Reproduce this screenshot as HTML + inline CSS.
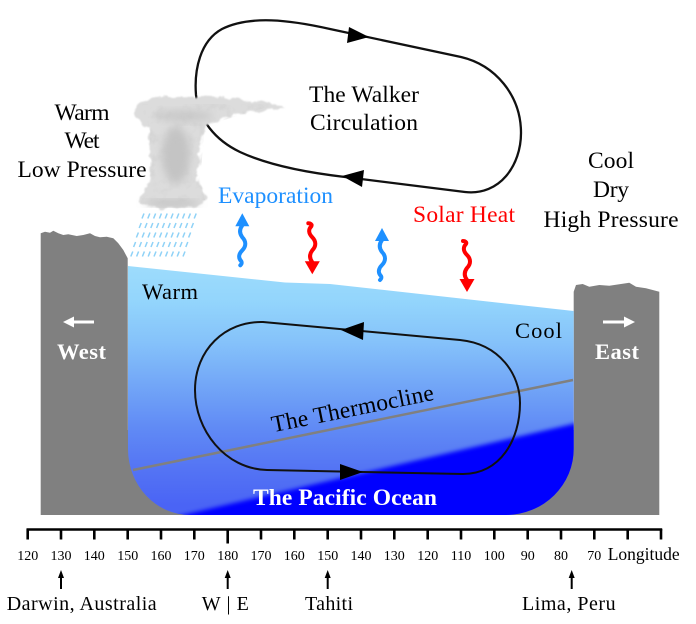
<!DOCTYPE html>
<html><head><meta charset="utf-8"><style>
html,body{margin:0;padding:0;background:#fff;}
svg{display:block;}
text{font-family:"Liberation Serif","Times New Roman","DejaVu Serif",serif;}
</style></head><body>
<svg width="696" height="624" viewBox="0 0 696 624" font-family="Liberation Serif, serif">
<defs>
  <linearGradient id="sea" gradientUnits="userSpaceOnUse" x1="0" y1="266" x2="0" y2="505">
    <stop offset="0" stop-color="#9ddcfc"/>
    <stop offset="0.15" stop-color="#93d5fc"/>
    <stop offset="0.32" stop-color="#85c2fa"/>
    <stop offset="0.5" stop-color="#72a6f7"/>
    <stop offset="0.68" stop-color="#608af5"/>
    <stop offset="0.85" stop-color="#5474f4"/>
    <stop offset="1" stop-color="#4a64f5"/>
  </linearGradient>
  <clipPath id="oc">
    <path d="M128,266 L285,282.5 L330,284 L573.7,311 L573.7,448 A68,66 0 0 1 506,515 L190,515 A62,66 0 0 1 128,449 Z"/>
  </clipPath>
  <filter id="b2" x="-10%" y="-10%" width="120%" height="120%"><feGaussianBlur stdDeviation="2"/></filter>
  <filter id="b4" x="-30%" y="-30%" width="160%" height="160%"><feGaussianBlur stdDeviation="4"/></filter>
  <filter id="fluff" x="-20%" y="-20%" width="140%" height="140%">
    <feTurbulence type="fractalNoise" baseFrequency="0.12" numOctaves="3" seed="3" result="n"/>
    <feDisplacementMap in="SourceGraphic" in2="n" scale="7" xChannelSelector="R" yChannelSelector="G"/>
    <feGaussianBlur stdDeviation="0.8"/>
  </filter>
  <filter id="tex" x="0" y="0" width="100%" height="100%">
    <feTurbulence type="fractalNoise" baseFrequency="0.09" numOctaves="3" seed="7" result="n"/>
    <feColorMatrix in="n" type="matrix" values="0 0 0 0 0.55  0 0 0 0 0.55  0 0 0 0 0.55  0 0 0 1.6 -0.75" result="m"/>
    <feComposite in="m" in2="SourceGraphic" operator="in"/>
  </filter>
</defs>

<!-- Land -->
<g fill="#808080">
  <path d="M40.7,233.3 L45,231.7 L50,232.7 L53.3,230.7 L58.3,233.3 L63.3,235 L68.3,234.3 L76.7,236 L83.3,235 L90,233.3 L95,236 L100,237.3 L106.7,236.7 L113.3,238.3 L118.3,243.3 L123.3,250 L127.7,258.3 L128,515 L40.7,515 Z"/>
  <path d="M573.7,291.7 L576,285 L582.7,284 L589.3,286.7 L599.3,285 L609.3,285.7 L619.3,284.3 L629.3,282.7 L636,286.7 L646,288.3 L652.7,290 L659.3,291.7 L659.3,515 L573.7,515 Z"/>
  <rect x="127" y="430" width="448" height="85"/>
</g>

<!-- Ocean -->
<g clip-path="url(#oc)">
  <rect x="120" y="260" width="460" height="260" fill="url(#sea)"/>
  <path d="M110,532 L590,420 L590,530 L110,530 Z" fill="#0000ff" filter="url(#b2)"/>
</g>

<!-- Thermocline -->
<line x1="133" y1="470" x2="573" y2="380" stroke="#808080" stroke-width="2.5"/>
<text x="354" y="416" font-size="23.5" text-anchor="middle" textLength="165" lengthAdjust="spacing" transform="rotate(-11.4 354 416)">The Thermocline</text>

<!-- Ocean loop -->
<path d="M263,322 L460,340 C500,344 520,375 520,403 C520,440 500,474 463,474 L267,470 C225,469 195,430 195,390 C195,350 225,321 263,322 Z" fill="none" stroke="#111" stroke-width="2"/>
<polygon points="341,330 364,322 363,340" fill="#000"/>
<polygon points="363,472 340,464 340,480" fill="#000"/>

<text x="142" y="299" font-size="22.5" textLength="56" lengthAdjust="spacing">Warm</text>
<text x="515" y="338" font-size="22.5" textLength="47" lengthAdjust="spacing">Cool</text>
<text x="345" y="505" font-size="23.5" font-weight="bold" fill="#fff" text-anchor="middle" textLength="184" lengthAdjust="spacing">The Pacific Ocean</text>

<!-- West / East -->
<g fill="#fff">
  <rect x="72" y="320.5" width="22" height="3"/>
  <polygon points="63,322 74,316.5 74,327.5"/>
  <rect x="603" y="320.5" width="22" height="3"/>
  <polygon points="635,322 624,316.5 624,327.5"/>
  <text x="81.5" y="359" font-size="22.5" font-weight="bold" text-anchor="middle" textLength="49" lengthAdjust="spacing">West</text>
  <text x="617" y="359" font-size="22.5" font-weight="bold" text-anchor="middle" textLength="44" lengthAdjust="spacing">East</text>
</g>

<!-- Walker loop -->
<path d="M461,57 L330,29 C290,20 250,15 222,29 C200,41 194,70 196,95 C199,120 215,140 240,152 C270,166 310,173 345,177 L465,192 C500,196 521,165 521,133 C521,95 495,65 461,57 Z" fill="none" stroke="#111" stroke-width="2.3"/>
<polygon points="369,37 349,27 347,43" fill="#000"/>
<polygon points="342,176 364,170 362,187" fill="#000"/>

<!-- Cloud -->
<g>
  <path filter="url(#fluff)" fill="#dcdcdc" d="M136,112 C136,102 150,97 170,97 C200,96 230,98 255,101 C268,102 278,103 285,107 C280,110 265,110 250,112 C230,115 215,120 205,126 C198,140 200,160 197,175 C198,185 205,192 206,198 C204,206 190,208 172,208 C155,208 140,207 137,201 C140,195 148,190 150,180 C152,165 148,145 150,130 C145,126 136,122 136,112 Z"/>
  <ellipse cx="176" cy="155" rx="14" ry="28" fill="#c4c4c4" filter="url(#b4)"/>
  <ellipse cx="185" cy="116" rx="28" ry="6" fill="#cacaca" filter="url(#b4)"/>
  <ellipse cx="172" cy="203" rx="28" ry="3" fill="#bebebe" filter="url(#b4)"/>
  <path filter="url(#tex)" fill="#fff" opacity="0.6" d="M140,104 L280,104 L250,112 L205,126 L200,180 L205,200 L140,204 L150,180 L150,130 Z"/>
</g>

<!-- Rain -->
<path fill="none" stroke="#8fd2f7" stroke-width="1.5" d="
M144,213.5 l-2,5 m7.8,-5 l-2,5 m7.8,-5 l-2,5 m7.8,-5 l-2,5 m7.8,-5 l-2,5 m7.8,-5 l-2,5 m7.8,-5 l-2,5 m7.8,-5 l-2,5 m7.8,-5 l-2,5 m7.8,-5 l-2,5
M141.2,223 l-2,5 m7.8,-5 l-2,5 m7.8,-5 l-2,5 m7.8,-5 l-2,5 m7.8,-5 l-2,5 m7.8,-5 l-2,5 m7.8,-5 l-2,5 m7.8,-5 l-2,5 m7.8,-5 l-2,5 m7.8,-5 l-2,5
M138.4,232.5 l-2,5 m7.8,-5 l-2,5 m7.8,-5 l-2,5 m7.8,-5 l-2,5 m7.8,-5 l-2,5 m7.8,-5 l-2,5 m7.8,-5 l-2,5 m7.8,-5 l-2,5 m7.8,-5 l-2,5 m7.8,-5 l-2,5
M135.6,242 l-2,5 m7.8,-5 l-2,5 m7.8,-5 l-2,5 m7.8,-5 l-2,5 m7.8,-5 l-2,5 m7.8,-5 l-2,5 m7.8,-5 l-2,5 m7.8,-5 l-2,5 m7.8,-5 l-2,5 m7.8,-5 l-2,5
M132.8,251.5 l-2,5 m7.8,-5 l-2,5 m7.8,-5 l-2,5 m7.8,-5 l-2,5 m7.8,-5 l-2,5 m7.8,-5 l-2,5 m7.8,-5 l-2,5 m7.8,-5 l-2,5 m7.8,-5 l-2,5 m7.8,-5 l-2,5"/>

<!-- Wavy arrows -->
<g transform="translate(242.3,213.3)" fill="#1e90ff" stroke="#1e90ff">
  <polygon points="0,0 -7,13 7,13" stroke="none"/>
  <path d="M0,12 C-3,16 -3,20 0,24 C4,28 4,33 0,37 C-4,41 -4,45 -1,48 C0,50 -1,51 -2,52" fill="none" stroke-width="4" stroke-linecap="round"/>
</g>
<g transform="translate(382,228)" fill="#1e90ff" stroke="#1e90ff">
  <polygon points="0,0 -7,13 7,13" stroke="none"/>
  <path d="M0,12 C-3,16 -3,20 0,24 C4,28 4,33 0,37 C-4,41 -4,45 -1,48 C0,50 -1,51 -2,52" fill="none" stroke-width="4" stroke-linecap="round"/>
</g>
<g transform="translate(312.3,274.3) scale(1,-1)" fill="#ff0000" stroke="#ff0000">
  <polygon points="0,0 -7.5,13 7.5,13" stroke="none"/>
  <path d="M0,12 C-3,16 -3,20 0,24 C4,28 4,33 0,37 C-4,41 -4,45 -1,48 C0,50 -2,51 -4,51" fill="none" stroke-width="4" stroke-linecap="round"/>
</g>
<g transform="translate(467,292) scale(1,-1)" fill="#ff0000" stroke="#ff0000">
  <polygon points="0,0 -7.5,13 7.5,13" stroke="none"/>
  <path d="M0,12 C-3,16 -3,20 0,24 C4,28 4,33 0,37 C-4,41 -4,45 -1,48 C0,50 -2,51 -4,51" fill="none" stroke-width="4" stroke-linecap="round"/>
</g>

<!-- Upper texts -->
<g font-size="23.5" text-anchor="middle">
  <text x="364" y="102" textLength="110" lengthAdjust="spacing">The Walker</text>
  <text x="364" y="130" textLength="108" lengthAdjust="spacing">Circulation</text>
  <text x="82" y="120" textLength="55" lengthAdjust="spacing">Warm</text>
  <text x="82" y="148" textLength="35" lengthAdjust="spacing">Wet</text>
  <text x="82" y="177" textLength="129" lengthAdjust="spacing">Low Pressure</text>
  <text x="611" y="168" textLength="46" lengthAdjust="spacing">Cool</text>
  <text x="611" y="197" textLength="36" lengthAdjust="spacing">Dry</text>
  <text x="611" y="227" textLength="135" lengthAdjust="spacing">High Pressure</text>
</g>
<text x="218" y="203" font-size="23.5" fill="#1e90ff" textLength="115" lengthAdjust="spacing">Evaporation</text>
<text x="413" y="222" font-size="23.5" fill="#ff0000" textLength="102" lengthAdjust="spacing">Solar Heat</text>

<!-- Axis -->
<line x1="26.5" y1="529.5" x2="662.2" y2="529.5" stroke="#000" stroke-width="2.5"/>
<path stroke="#000" stroke-width="2.6" fill="none" d="M27.7,529 V539.5 M61,529 V539.5 M94.3,529 V539.5 M127.7,529 V539.5 M161,529 V539.5 M194.3,529 V539.5 M227.7,529 V543.5 M261,529 V539.5 M294.3,529 V539.5 M327.7,529 V539.5 M361,529 V539.5 M394.3,529 V539.5 M427.7,529 V539.5 M461,529 V539.5 M494.3,529 V539.5 M527.7,529 V539.5 M561,529 V539.5 M594.3,529 V539.5 M627.7,529 V539.5 M661,529 V539.5"/>
<g font-size="14" text-anchor="middle">
  <text x="27.7" y="560">120</text>
  <text x="61" y="560">130</text>
  <text x="94.3" y="560">140</text>
  <text x="127.7" y="560">150</text>
  <text x="161" y="560">160</text>
  <text x="194.3" y="560">170</text>
  <text x="227.7" y="560">180</text>
  <text x="261" y="560">170</text>
  <text x="294.3" y="560">160</text>
  <text x="327.7" y="560">150</text>
  <text x="361" y="560">140</text>
  <text x="394.3" y="560">130</text>
  <text x="427.7" y="560">120</text>
  <text x="461" y="560">110</text>
  <text x="494.3" y="560">100</text>
  <text x="527.7" y="560">90</text>
  <text x="561" y="560">80</text>
  <text x="594.3" y="560">70</text>
</g>
<text x="607.7" y="560" font-size="17.5" textLength="72" lengthAdjust="spacing">Longitude</text>

<!-- Location arrows -->
<g fill="#000" stroke="none">
  <rect x="60" y="576" width="2" height="13"/><polygon points="61,570 58,578 64,578"/>
  <rect x="226.7" y="576" width="2" height="13"/><polygon points="227.7,570 224.7,578 230.7,578"/>
  <rect x="326.7" y="576" width="2" height="13"/><polygon points="327.7,570 324.7,578 330.7,578"/>
  <rect x="570.7" y="576" width="2" height="13"/><polygon points="571.7,570 568.7,578 574.7,578"/>
</g>
<g font-size="20" text-anchor="middle">
  <text x="81.7" y="610" textLength="150" lengthAdjust="spacing">Darwin, Australia</text>
  <text x="225.3" y="610" textLength="47" lengthAdjust="spacing">W | E</text>
  <text x="329" y="610" textLength="48" lengthAdjust="spacing">Tahiti</text>
  <text x="568.8" y="610" textLength="93.6" lengthAdjust="spacing">Lima, Peru</text>
</g>
</svg>
</body></html>
